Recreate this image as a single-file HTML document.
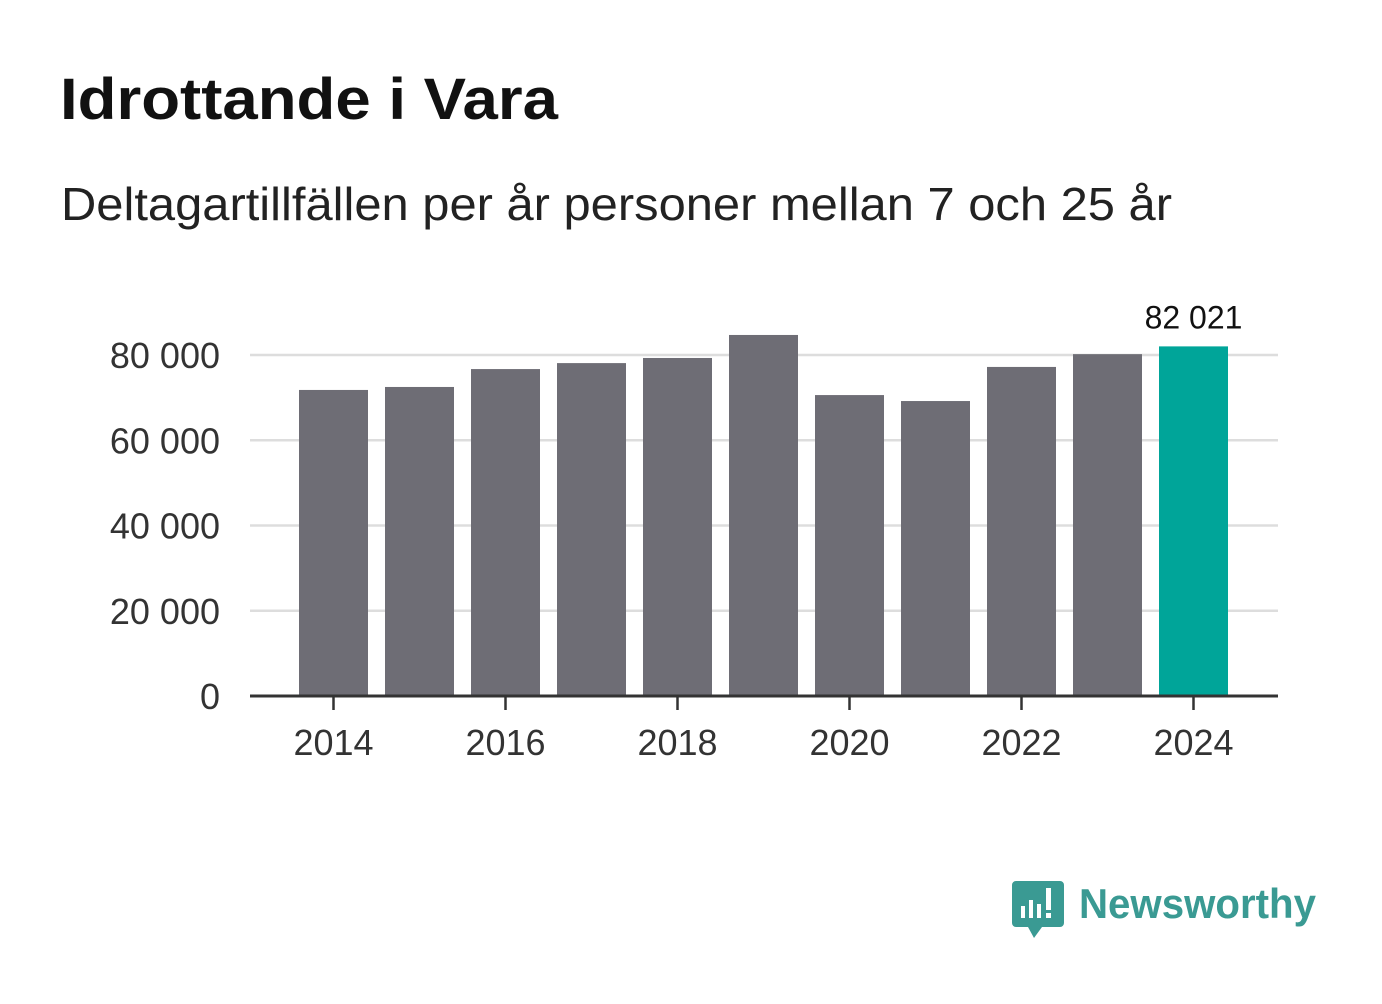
<!DOCTYPE html>
<html><head><meta charset="utf-8"><style>
body{margin:0;background:#fff;width:1382px;height:999px;overflow:hidden;font-family:"Liberation Sans","DejaVu Sans",sans-serif}
</style></head><body>
<svg width="1382" height="999" xmlns="http://www.w3.org/2000/svg">
<text x="60" y="119" font-size="58" font-weight="bold" fill="#111" textLength="498" lengthAdjust="spacingAndGlyphs">Idrottande i Vara</text>
<text x="61" y="220" font-size="46" fill="#222" textLength="1111" lengthAdjust="spacingAndGlyphs">Deltagartillfällen per år personer mellan 7 och 25 år</text>
<g id="grid"></g><g id="bars"></g><g id="axes"></g>
<g>
<path d="M1016 881 h44 a4 4 0 0 1 4 4 v38 a4 4 0 0 1 -4 4 h-18 l-8 11 l-6 -11 h-12 a4 4 0 0 1 -4 -4 v-38 a4 4 0 0 1 4 -4z" fill="#3a9a93"/>
<rect x="1021" y="906" width="4" height="12" fill="#fff"/><rect x="1029" y="900" width="4" height="18" fill="#fff"/><rect x="1037" y="904" width="4" height="14" fill="#fff"/><rect x="1046" y="888" width="5" height="22" fill="#fff"/><rect x="1046" y="913" width="5" height="5" fill="#fff"/>
<text x="1079" y="918" font-size="42" font-weight="bold" fill="#3a9a93" textLength="237" lengthAdjust="spacingAndGlyphs">Newsworthy</text>
</g>
</svg>
<script>
const years=[2014,2015,2016,2017,2018,2019,2020,2021,2022,2023,2024];
const values=[71800,72500,76700,78100,79300,84700,70600,69200,77200,80200,82021];
const yTicks=[0,20000,40000,60000,80000];
const yTickLabels=["0","20 000","40 000","60 000","80 000"];
const xTickYears=[2014,2016,2018,2020,2022,2024];
const NS="http://www.w3.org/2000/svg";
const y0=696,pxPer=341/80000,x0=333.5,step=86,bw=69;
const ys=v=>y0-v*pxPer, xs=yr=>x0+(yr-2014)*step;
function mk(t,a,p){const e=document.createElementNS(NS,t);for(const k in a)e.setAttribute(k,a[k]);p.appendChild(e);return e;}
const grid=document.getElementById('grid'),bars=document.getElementById('bars'),axes=document.getElementById('axes');
yTicks.forEach((t,i)=>{
 if(t>0){const l=mk('line',{x1:250,x2:1278,y1:ys(t),y2:ys(t),stroke:'#dddddd','stroke-width':2.5},grid);
 
 }
 const tx=mk('text',{x:220,y:ys(t)+13,'font-size':36,fill:'#333','text-anchor':'end'},axes);tx.textContent=yTickLabels[i];
 
 
});
years.forEach((yr,i)=>{
 const last=i===years.length-1;
 const r=mk('rect',{x:xs(yr)-bw/2,y:ys(values[i]),width:bw,height:y0-ys(values[i]),fill:last?'#00a599':'#6e6d75'},bars);
 
 
 if(last){const t=mk('text',{x:xs(yr),y:ys(values[i])-18,'font-size':32,fill:'#111','text-anchor':'middle'},axes);
 t.textContent=values[i].toLocaleString('sv-SE').replace(/\s/g,' ');
 
 }
});
const base=mk('line',{x1:250,x2:1278,y1:y0,y2:y0,stroke:'#333','stroke-width':3},axes);


xTickYears.forEach(yr=>{
 const tk=mk('line',{x1:xs(yr),x2:xs(yr),y1:y0,y2:y0+14,stroke:'#333','stroke-width':2.5},axes);
 
 
 const t=mk('text',{x:xs(yr),y:755,'font-size':36,fill:'#333','text-anchor':'middle'},axes);t.textContent=yr;
 
 
});
</script>
</body></html>
